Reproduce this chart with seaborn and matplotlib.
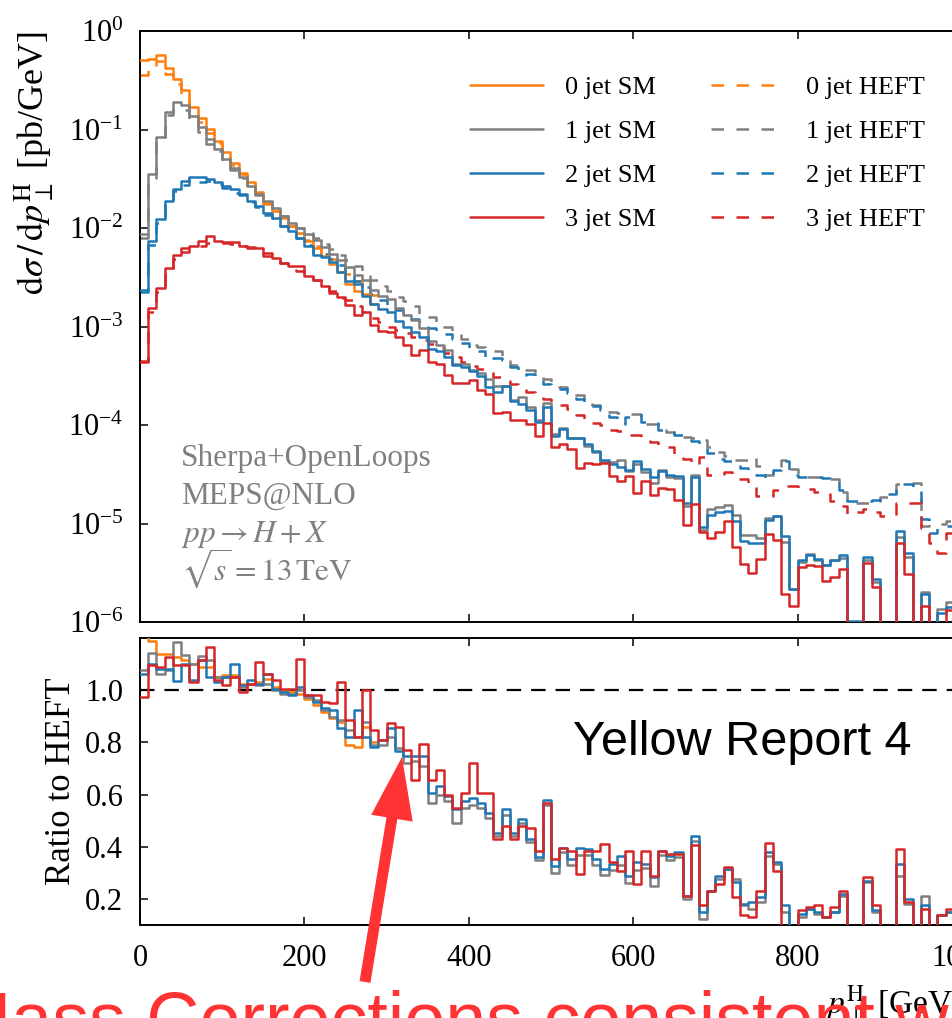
import numpy as np
import matplotlib
matplotlib.use('Agg')
import matplotlib.pyplot as plt
import matplotlib.ticker as mticker
from matplotlib.patches import FancyArrow
from matplotlib.transforms import IdentityTransform
import seaborn as sns

# 10 GeV bins from 0 to 1000 GeV
edges = np.arange(0, 1010, 10)

# HEFT spectra [pb/GeV]
heft_0j = [0.36, 0.44, 0.50, 0.37, 0.29, 0.225, 0.155, 0.119, 0.092, 0.073,
           0.056, 0.0435, 0.035, 0.0283, 0.0223, 0.0177, 0.0148, 0.0125, 0.0106, 0.0090,
           0.0076, 0.0066, 0.0056, 0.0048, 0.0041, 0.0034, 0.0029, 0.0025, 0.0021]
heft_1j = [0.0080, 0.0309, 0.0785, 0.139, 0.160, 0.156, 0.126, 0.094, 0.072, 0.060,
           0.0476, 0.039, 0.0322, 0.0261, 0.0216, 0.0184, 0.0158, 0.0133, 0.0115, 0.0101,
           0.0090, 0.0079, 0.0069, 0.0061, 0.0053, 0.0047, 0.0041, 0.0034, 0.0030, 0.0026,
           0.0023, 0.0020, 0.0018, 0.0016, 0.00135, 0.00125, 0.00108, 0.00100, 0.00085, 0.00075,
           6.5e-4, 6.2e-4, 5.8e-4, 5.6e-4, 4.8e-4, 4.1e-4, 3.9e-4, 3.6e-4, 3.2e-4, 2.96e-4,
           2.7e-4, 2.45e-4, 2.25e-4, 2.0e-4, 1.65e-4, 1.6e-4, 1.45e-4, 1.36e-4, 1.33e-4, 1.30e-4,
           1.30e-4, 1.03e-4, 1.03e-4, 9.5e-5, 8.5e-5, 8.0e-5, 7.6e-5, 7.4e-5, 7.0e-5, 6.0e-5,
           5.3e-5, 4.9e-5, 4.4e-5, 4.4e-5, 4.7e-5, 3.8e-5, 3.1e-5, 3.6e-5, 4.4e-5, 3.6e-5,
           3.1e-5, 3.0e-5, 2.95e-5, 2.9e-5, 2.85e-5, 2.1e-5, 1.63e-5, 1.63e-5, 1.63e-5, 1.7e-5,
           1.85e-5, 2.1e-5, 2.5e-5, 2.5e-5, 2.6e-5, 9.5e-6, 9.8e-6, 9.8e-6, 1.07e-5, 1.0e-5]
heft_2j = [0.00223, 0.0067, 0.01136, 0.01745, 0.0239, 0.0275, 0.0314, 0.0293, 0.0299, 0.0281,
           0.0255, 0.0225, 0.0216, 0.0182, 0.0164, 0.0135, 0.0126, 0.0106, 0.0095, 0.0079,
           0.0067, 0.0056, 0.0054, 0.0049, 0.0042, 0.0035, 0.0029, 0.0025, 0.00215, 0.00185,
           0.00165, 0.00148, 0.00132, 0.00118, 0.00106, 0.00097, 0.00090, 0.00083, 0.00075, 0.00068,
           6.0e-4, 5.6e-4, 4.6e-4, 4.8e-4, 4.6e-4, 3.9e-4, 3.2e-4, 3.3e-4, 2.96e-4, 2.6e-4,
           2.35e-4, 2.3e-4, 2.09e-4, 1.85e-4, 1.65e-4, 1.55e-4, 1.41e-4, 1.2e-4, 1.03e-4, 1.2e-4,
           1.27e-4, 1.07e-4, 1.06e-4, 8.9e-5, 8.5e-5, 8.0e-5, 7.6e-5, 6.8e-5, 6.2e-5, 5.2e-5,
           4.5e-5, 4.3e-5, 4.0e-5, 3.7e-5, 3.4e-5, 3.1e-5, 2.9e-5, 3.5e-5, 4.3e-5, 3.1e-5,
           3.0e-5, 2.95e-5, 2.95e-5, 2.9e-5, 2.85e-5, 2.2e-5, 1.7e-5, 1.7e-5, 1.7e-5, 1.75e-5,
           1.8e-5, 2.0e-5, 2.5e-5, 2.5e-5, 2.2e-5, 1.1e-5, 8.1e-6, 9.0e-6, 9.5e-6, 9.0e-6]
heft_3j = [4.5e-4, 1.41e-3, 2.26e-3, 3.5e-3, 4.9e-3, 5.75e-3, 6.3e-3, 6.6e-3, 7.1e-3, 7.1e-3,
           7.1e-3, 6.8e-3, 6.6e-3, 6.2e-3, 5.6e-3, 5.2e-3, 4.8e-3, 4.4e-3, 4.1e-3, 3.7e-3,
           3.3e-3, 3.0e-3, 2.68e-3, 2.31e-3, 1.95e-3, 1.85e-3, 1.6e-3, 1.4e-3, 1.22e-3, 1.1e-3,
           1.0e-3, 9.2e-4, 8.5e-4, 7.9e-4, 7.3e-4, 6.6e-4, 6.0e-4, 5.4e-4, 4.9e-4, 4.4e-4,
           4.0e-4, 3.7e-4, 3.4e-4, 3.1e-4, 2.8e-4, 2.6e-4, 2.35e-4, 2.15e-4, 2.0e-4, 1.85e-4,
           1.7e-4, 1.6e-4, 1.47e-4, 1.25e-4, 1.07e-4, 1.05e-4, 1.0e-4, 8.9e-5, 8.7e-5, 7.85e-5,
           7.85e-5, 7.0e-5, 6.7e-5, 6.0e-5, 6.0e-5, 4.7e-5, 4.5e-5, 3.9e-5, 4.7e-5, 3.1e-5,
           3.2e-5, 3.3e-5, 2.8e-5, 2.8e-5, 2.4e-5, 1.9e-5, 1.9e-5, 2.2e-5, 2.4e-5, 2.4e-5,
           2.3e-5, 2.24e-5, 2.1e-5, 2.0e-5, 1.7e-5, 1.5e-5, 1.25e-5, 1.3e-5, 1.4e-5, 1.3e-5,
           1.2e-5, 1.2e-5, 1.63e-5, 1.63e-5, 1.63e-5, 9.0e-6, 6.4e-6, 5.0e-6, 8.1e-6, 8.0e-6]

# SM / HEFT ratios
ratio_0j = [1.420, 1.190, 1.140, 1.140, 1.127, 1.114, 1.100, 1.089, 1.089, 1.051,
            1.057, 1.057, 1.025, 1.025, 1.032, 1.044, 1.013, 1.000, 0.994, 0.987,
            0.968, 0.943, 0.918, 0.892, 0.879, 0.790, 0.784, 0.860, 0.800]
ratio_1j = [1.079, 1.142, 1.063, 1.079, 1.184, 1.133, 1.100, 1.130, 1.114, 1.051,
            1.051, 1.051, 1.013, 1.025, 1.019, 1.025, 1.000, 0.987, 0.985, 1.000,
            0.975, 0.962, 0.924, 0.898, 0.886, 0.848, 0.822, 0.879, 0.790, 0.790,
            0.822, 0.778, 0.720, 0.727, 0.708, 0.568, 0.600, 0.575, 0.492, 0.550,
            0.560, 0.550, 0.510, 0.440, 0.520, 0.440, 0.490, 0.420, 0.350, 0.560,
            0.300, 0.380, 0.330, 0.370, 0.370, 0.330, 0.290, 0.310, 0.330, 0.260,
            0.310, 0.320, 0.250, 0.370, 0.350, 0.360, 0.200, 0.422, 0.124, 0.232,
            0.276, 0.314, 0.276, 0.175, 0.162, 0.187, 0.365, 0.333, 0.149, 0.060,
            0.130, 0.162, 0.143, 0.130, 0.149, 0.213, 0.050, 0.050, 0.263, 0.149,
            0.030, 0.030, 0.289, 0.181, 0.020, 0.213, 0.020, 0.137, 0.150, 0.150]
ratio_2j = [1.063, 1.100, 1.083, 1.083, 1.036, 1.100, 1.038, 1.114, 1.051, 1.032,
            1.051, 1.100, 1.019, 1.038, 1.025, 1.063, 1.006, 0.994, 0.981, 1.013,
            0.981, 0.956, 0.930, 0.924, 0.854, 0.822, 0.924, 0.822, 0.784, 0.810,
            0.854, 0.765, 0.746, 0.746, 0.746, 0.606, 0.632, 0.594, 0.543, 0.575,
            0.587, 0.568, 0.530, 0.454, 0.543, 0.454, 0.505, 0.429, 0.359, 0.581,
            0.327, 0.397, 0.352, 0.397, 0.390, 0.352, 0.314, 0.333, 0.365, 0.289,
            0.340, 0.333, 0.283, 0.384, 0.365, 0.378, 0.213, 0.441, 0.150, 0.232,
            0.289, 0.314, 0.263, 0.181, 0.187, 0.206, 0.378, 0.340, 0.175, 0.070,
            0.143, 0.162, 0.149, 0.130, 0.149, 0.219, 0.060, 0.060, 0.270, 0.156,
            0.040, 0.040, 0.333, 0.200, 0.020, 0.175, 0.020, 0.137, 0.150, 0.150]
ratio_3j = [0.975, 1.095, 1.089, 1.127, 1.095, 1.095, 1.032, 1.114, 1.165, 1.038,
            1.019, 1.051, 0.994, 1.025, 1.108, 1.063, 1.038, 1.006, 1.006, 1.121,
            0.981, 0.981, 0.956, 0.949, 1.032, 0.886, 0.822, 1.000, 0.848, 0.810,
            0.873, 0.860, 0.771, 0.657, 0.795, 0.655, 0.695, 0.600, 0.549, 0.606,
            0.721, 0.606, 0.606, 0.429, 0.479, 0.429, 0.479, 0.473, 0.384, 0.568,
            0.352, 0.397, 0.384, 0.295, 0.384, 0.384, 0.410, 0.340, 0.308, 0.384,
            0.257, 0.384, 0.289, 0.384, 0.371, 0.371, 0.213, 0.406, 0.175, 0.232,
            0.257, 0.321, 0.206, 0.137, 0.130, 0.232, 0.416, 0.308, 0.080, 0.060,
            0.156, 0.168, 0.175, 0.130, 0.168, 0.232, 0.040, 0.040, 0.283, 0.175,
            0.020, 0.020, 0.390, 0.187, 0.020, 0.162, 0.020, 0.137, 0.162, 0.150]

jets = ['0 jet', '1 jet', '2 jet', '3 jet']
colors = ['#ff7f0e', '#7f7f7f', '#1f77b4', '#d62728']
heft = [heft_0j, heft_1j, heft_2j, heft_3j]
ratios = [ratio_0j, ratio_1j, ratio_2j, ratio_3j]

info_lines = ['Sherpa+OpenLoops', 'MEPS@NLO', r'$pp \to H + X$', r'$\sqrt{s} = 13\,\mathrm{TeV}$']

sns.set_style('ticks', rc={'axes.edgecolor': 'black', 'text.color': 'black',
                           'xtick.color': 'black', 'ytick.color': 'black',
                           'axes.labelcolor': 'black'})
plt.rcParams['font.family'] = ['Liberation Serif', 'DejaVu Serif']
plt.rcParams['mathtext.fontset'] = 'stix'
plt.rcParams['axes.linewidth'] = 1.4

W, H = 953, 1018
fig = plt.figure(figsize=(W / 100, H / 100), dpi=100)
ax1 = fig.add_axes([140 / W, 1 - 622 / H, 822 / W, 591 / H])
ax2 = fig.add_axes([140 / W, 1 - 925 / H, 822 / W, 287 / H])
ax1.set_yscale('log')


def step(ax, vals, color, ls, label=None, z=2):
    n = len(vals)
    x = edges[:n + 1]
    y = np.append(vals, vals[-1])
    sns.lineplot(x=x, y=y, ax=ax, color=color, linestyle=ls, linewidth=1.8,
                 drawstyle='steps-post', label=label, zorder=z,
                 errorbar=None, sort=False)
    return ax.lines[-1]


dashed = (0, (5, 5))
sm_handles, heft_handles = [], []
for i in range(4):
    h = np.array(heft[i])
    r = np.array(ratios[i])
    sm = h * r
    sm_handles.append(step(ax1, sm, colors[i], '-', jets[i] + ' SM', z=3 + i * 0.1))
    heft_handles.append(step(ax1, h, colors[i], dashed, jets[i] + ' HEFT', z=2 + i * 0.1))
    step(ax2, r, colors[i], '-', None, z=3 + i * 0.1)

ax2.axhline(1.0, color='black', linewidth=1.6, linestyle=(0, (6.5, 4.5)), zorder=1.5)

# axes ranges and ticks
for ax in (ax1, ax2):
    ax.set_xlim(0, 1000)
    ax.set_xticks([0, 200, 400, 600, 800, 1000])
    ax.tick_params(which='both', direction='in', top=True, right=True,
                   length=6, width=1.1, labelsize=22)
    ax.tick_params(axis='x', pad=14)
    ax.tick_params(axis='y', pad=12)
    ax.set_xlabel('')
ax1.set_ylim(1e-6, 1)
ax1.yaxis.set_major_locator(mticker.LogLocator(base=10, numticks=10))
ax1.yaxis.set_minor_locator(mticker.NullLocator())
ax1.tick_params(labelbottom=False)

ax2.set_ylim(0.1, 1.2)
ax2.set_yticks([0.2, 0.4, 0.6, 0.8, 1.0])
ax2.yaxis.set_major_formatter(mticker.FormatStrFormatter('%.1f'))

ax1.set_ylabel(r'$\mathrm{d}\sigma\,/\,\mathrm{d}p_{\perp}^{\mathrm{H}}$ [pb/GeV]', fontsize=26, ha='right')
ax1.yaxis.set_label_coords(-0.102, 1.0)
ax2.set_ylabel('Ratio to HEFT', fontsize=25)
ax2.yaxis.set_label_coords(-0.0754, 0.5)
ax2.set_xlabel(r'$p_{\perp}^{\mathrm{H}}$ [GeV]', fontsize=24, loc='right')
ax2.xaxis.set_label_coords(1.0, -0.205)

ax1.legend(sm_handles + heft_handles,
           [h.get_label() for h in sm_handles + heft_handles],
           ncol=2, frameon=False, fontsize=19, handlelength=2.75,
           handletextpad=0.85, columnspacing=2.1, labelspacing=0.77, borderpad=0,
           borderaxespad=0, loc='upper left', bbox_to_anchor=(470 / W, 1 - 76 / H),
           bbox_transform=fig.transFigure)

for i, t in enumerate(info_lines):
    fig.text(181 / W, 1 - (466 + 38 * i) / H, t, color='#808080', fontsize=22.5,
             ha='left', va='baseline')

fig.text(573 / W, 1 - 755 / H, 'Yellow Report 4', fontsize=35,
         family='Liberation Sans', ha='left', va='baseline')

# red annotation on top
fig.text(-50 / W, 1 - 1044 / H, 'Mass Corrections consistent with', fontsize=53,
         color='#ff3333', family='Liberation Sans', ha='left', va='baseline')
arrow = FancyArrow(365, H - 982, 37, 225, width=11, head_width=42, head_length=62,
                   length_includes_head=True, color='#ff3333', linewidth=0,
                   transform=IdentityTransform(), zorder=10)
fig.add_artist(arrow)

fig.savefig('out.png', dpi=100)
